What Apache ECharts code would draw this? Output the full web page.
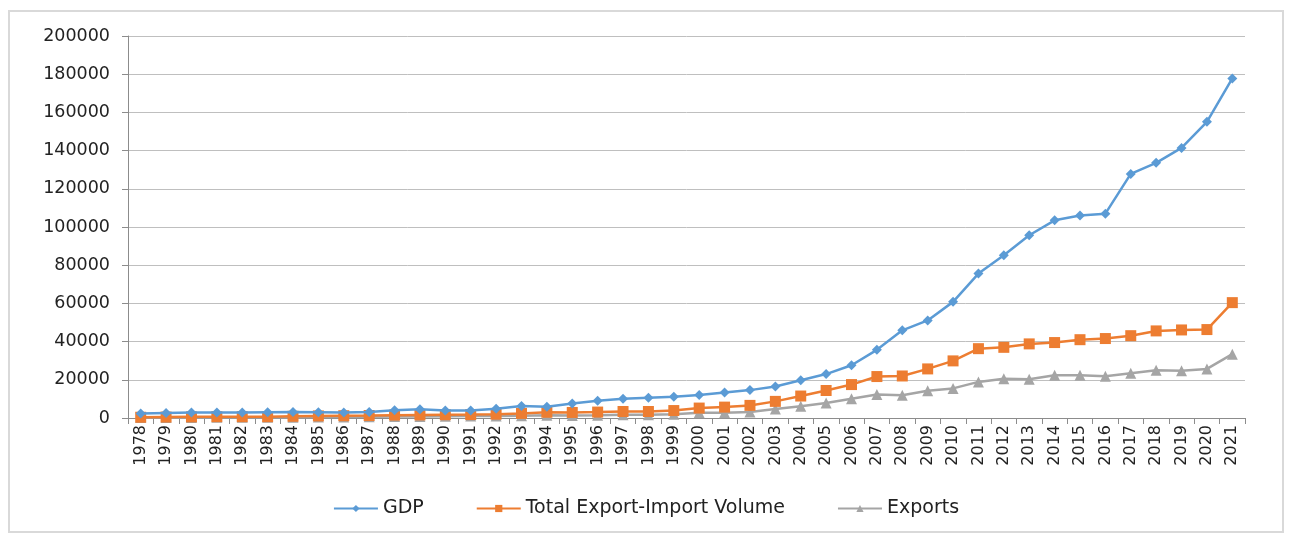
<!DOCTYPE html>
<html>
<head>
<meta charset="utf-8">
<script src="https://cdn.jsdelivr.net/npm/echarts@6/dist/echarts.min.js"></script>
<style>
  html, body { margin: 0; padding: 0; background: #fff; }
  #chart { width: 1292px; height: 535px; }
</style>
</head>
<body>
<div id="chart"></div>
<script>
// 年份
const years = []
for (let y = 1978; y <= 2021; y++) years.push(String(y))

// GDP
const gdp = [
  2300, 2600, 2900, 2900, 2900, 3000, 3100, 3000, 2900, 3200,
  4000, 4600, 3900, 3900, 4800, 6300, 5900, 7600, 9000, 10100,
  10600, 11100, 12000, 13400, 14600, 16500, 19800, 23000, 27600, 35700,
  45900, 51100, 60800, 75600, 85200, 95700, 103500, 106000, 107000, 127800,
  133600, 141400, 155100, 177800
]

// 进出口总额
const trade = [
  400, 500, 600, 700, 700, 700, 900, 1100, 1200, 1300,
  1500, 1600, 1700, 1800, 2000, 2400, 3000, 2900, 3100, 3400,
  3400, 3900, 5200, 5700, 6600, 8700, 11500, 14400, 17500, 21700,
  22000, 25700, 29900, 36300, 37000, 38800, 39500, 41000, 41600, 43100,
  45600, 46100, 46300, 60400
]

// 出口
const exportsData = [
  200, 250, 300, 350, 350, 350, 450, 500, 550, 650,
  750, 800, 900, 1000, 1100, 1200, 1400, 1300, 1400, 1700,
  1700, 1900, 2700, 2800, 3200, 4700, 6200, 7800, 10100, 12300,
  11900, 14300, 15500, 18900, 20600, 20300, 22400, 22400, 21800, 23400,
  25000, 24800, 25700, 33400
]

const FONT = 'DejaVu Sans'
const chart = echarts.init(document.getElementById('chart'))

chart.setOption({
  animation: false,
  textStyle: { fontFamily: FONT },
  graphic: [{
    type: 'rect',
    silent: true,
    shape: { x: 9, y: 11, width: 1274, height: 521 },
    style: { fill: 'none', stroke: '#d9d9d9', lineWidth: 2 },
  }],
  grid: { left: 128, right: 47, top: 36, bottom: 117 },
  legend: {
    bottom: 12,
    left: 'center',
    itemWidth: 44,
    itemHeight: 9,
    itemGap: 52,
    textStyle: { fontFamily: FONT, fontSize: 19, color: '#222' },
    data: ['GDP', 'Total Export-Import Volume', 'Exports'],
  },
  xAxis: {
    type: 'category',
    data: years,
    boundaryGap: true,
    axisLine: { lineStyle: { color: '#8c8c8c', width: 1 } },
    axisTick: { show: true, interval: 0, length: 6, lineStyle: { color: '#8c8c8c' } },
    axisLabel: { interval: 0, rotate: 90, fontSize: 16, color: '#222', margin: 7, fontFamily: FONT },
  },
  yAxis: {
    type: 'value',
    min: 0,
    max: 200000,
    interval: 20000,
    axisLine: { show: true, lineStyle: { color: '#8c8c8c', width: 1 } },
    axisTick: { show: true, length: 6, lineStyle: { color: '#8c8c8c' } },
    axisLabel: {
      fontSize: 17.5, color: '#222', margin: 18, fontFamily: FONT,
      formatter: (v) => String(v),
    },
    splitLine: { lineStyle: { color: '#bfbfbf', width: 1 } },
  },
  series: [
    {
      name: 'GDP',
      type: 'line',
      data: gdp,
      symbol: 'diamond',
      symbolSize: 10,
      lineStyle: { color: '#5b9bd5', width: 2.5 },
      itemStyle: { color: '#5b9bd5' },
      z: 4,
    },
    {
      name: 'Total Export-Import Volume',
      type: 'line',
      data: trade,
      symbol: 'rect',
      symbolSize: 11,
      lineStyle: { color: '#ed7d31', width: 2.5 },
      itemStyle: { color: '#ed7d31' },
      z: 3,
    },
    {
      name: 'Exports',
      type: 'line',
      data: exportsData,
      symbol: 'triangle',
      symbolSize: 11,
      lineStyle: { color: '#a5a5a5', width: 2.5 },
      itemStyle: { color: '#a5a5a5' },
      z: 2,
    },
  ],
})
</script>
</body>
</html>
